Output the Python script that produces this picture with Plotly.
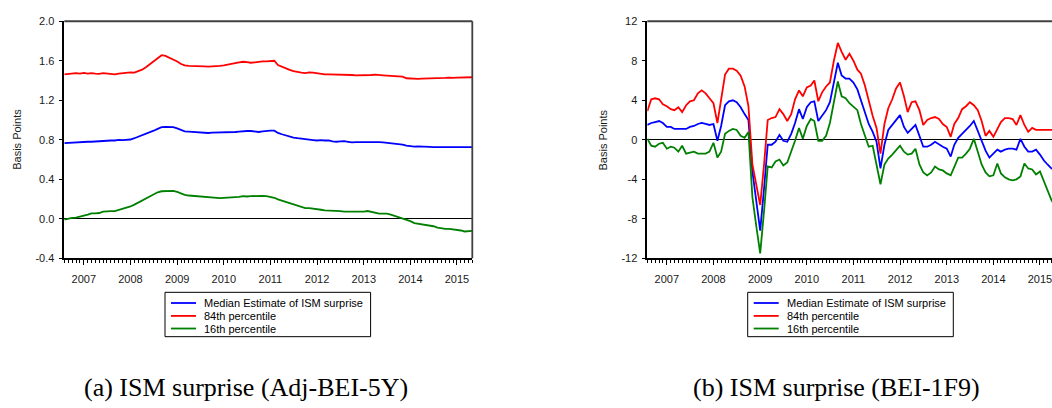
import pandas as pd
import plotly.graph_objects as go

W, H = 1052, 408

# Monthly observations, Aug 2006 - May 2015
months = pd.date_range("2006-08-01", periods=106, freq="MS")

series_names = ["Median Estimate of ISM surprise", "84th percentile", "16th percentile"]
series_colors = ["#0000ff", "#ff0000", "#008000"]

# Panel (a): ISM surprise, Adj-BEI-5Y (basis points)
adj_median = [
    0.767, 0.770, 0.770, 0.774, 0.774, 0.777, 0.780, 0.780, 0.784, 0.784,
    0.790, 0.793, 0.793, 0.793, 0.800, 0.797, 0.800, 0.803, 0.816, 0.830,
    0.846, 0.859, 0.872, 0.892, 0.911, 0.928, 0.931, 0.931, 0.928, 0.915,
    0.898, 0.885, 0.882, 0.879, 0.882, 0.879, 0.872, 0.869, 0.872, 0.872,
    0.872, 0.875, 0.875, 0.879, 0.879, 0.882, 0.889, 0.889, 0.889, 0.882,
    0.879, 0.885, 0.892, 0.892, 0.892, 0.869, 0.856, 0.843, 0.830, 0.823,
    0.816, 0.813, 0.810, 0.803, 0.797, 0.793, 0.797, 0.793, 0.793, 0.784,
    0.780, 0.784, 0.787, 0.780, 0.774, 0.777, 0.777, 0.780, 0.780, 0.784,
    0.780, 0.777, 0.774, 0.770, 0.770, 0.764, 0.757, 0.751, 0.741, 0.734,
    0.731, 0.734, 0.734, 0.731, 0.728, 0.725, 0.725, 0.721, 0.721, 0.718,
    0.718, 0.721, 0.721, 0.725, 0.725, 0.725,
]
adj_p84 = [
    1.462, 1.466, 1.472, 1.475, 1.470, 1.478, 1.470, 1.475, 1.470, 1.468,
    1.475, 1.470, 1.468, 1.462, 1.470, 1.475, 1.478, 1.482, 1.480, 1.495,
    1.510, 1.535, 1.567, 1.600, 1.633, 1.656, 1.650, 1.633, 1.616, 1.593,
    1.567, 1.554, 1.548, 1.548, 1.551, 1.548, 1.544, 1.541, 1.541, 1.544,
    1.548, 1.554, 1.564, 1.570, 1.577, 1.584, 1.590, 1.587, 1.580, 1.584,
    1.590, 1.593, 1.593, 1.600, 1.600, 1.557, 1.538, 1.525, 1.508, 1.495,
    1.485, 1.479, 1.475, 1.482, 1.479, 1.472, 1.466, 1.462, 1.462, 1.462,
    1.459, 1.459, 1.456, 1.459, 1.456, 1.452, 1.452, 1.452, 1.449, 1.456,
    1.459, 1.452, 1.452, 1.449, 1.446, 1.443, 1.443, 1.439, 1.423, 1.420,
    1.420, 1.416, 1.420, 1.420, 1.423, 1.423, 1.423, 1.426, 1.426, 1.430,
    1.426, 1.430, 1.430, 1.433, 1.433, 1.433,
]
adj_p16 = [
    -0.007, 0.003, 0.010, 0.013, 0.020, 0.033, 0.043, 0.056, 0.056, 0.059,
    0.072, 0.079, 0.079, 0.079, 0.089, 0.102, 0.111, 0.125, 0.144, 0.164,
    0.184, 0.207, 0.230, 0.252, 0.269, 0.279, 0.282, 0.282, 0.282, 0.272,
    0.256, 0.243, 0.236, 0.233, 0.226, 0.226, 0.223, 0.216, 0.213, 0.210,
    0.210, 0.213, 0.216, 0.213, 0.216, 0.223, 0.230, 0.226, 0.230, 0.233,
    0.236, 0.233, 0.230, 0.223, 0.213, 0.197, 0.184, 0.170, 0.157, 0.141,
    0.128, 0.115, 0.108, 0.108, 0.105, 0.098, 0.092, 0.085, 0.085, 0.082,
    0.082, 0.079, 0.072, 0.069, 0.072, 0.072, 0.069, 0.072, 0.079, 0.069,
    0.059, 0.052, 0.052, 0.052, 0.043, 0.030, 0.016, 0.003, -0.010, -0.023,
    -0.043, -0.049, -0.056, -0.062, -0.066, -0.075, -0.089, -0.098, -0.102, -0.102,
    -0.105, -0.108, -0.118, -0.128, -0.128, -0.121,
]

# Panel (b): ISM surprise, BEI-1F9 (basis points)
f9_median = [
    1.5, 1.7, 1.8, 1.9, 1.7, 1.3, 1.3, 1.1, 1.1, 1.1,
    1.1, 1.3, 1.4, 1.6, 1.7, 1.6, 1.5, 1.6, -0.1, 1.4,
    3.5, 3.9, 4.0, 3.8, 3.3, 2.6, 2.0, -3.2, -6.1, -9.2,
    -4.8, -0.5, -0.5, -0.2, 0.5, -0.1, -0.2, 0.6, 1.7, 3.1,
    2.1, 3.3, 3.8, 3.9, 1.9, 2.5, 3.0, 3.8, 6.0, 7.8,
    6.5, 6.2, 6.2, 5.8, 5.1, 4.0, 2.7, 1.6, 0.8, -0.2,
    -2.9, -0.5, 1.0, 1.5, 1.9, 2.5, 1.3, 0.7, 1.1, 1.5,
    0.4, -0.7, -0.7, -0.5, -0.2, -0.5, -0.7, -0.9, -1.7, -0.5,
    0.2, 0.6, 1.0, 1.4, 1.9, 0.9, -0.1, -1.1, -1.8, -1.4,
    -1.0, -1.2, -1.0, -0.9, -0.9, -1.0, 0.1, -0.7, -1.2, -1.2,
    -1.0, -1.5, -2.1, -2.5, -2.9, -3.0,
]
f9_p84 = [
    2.9, 4.1, 4.2, 4.1, 3.6, 3.4, 3.1, 3.0, 3.3, 2.8,
    3.5, 3.9, 4.0, 4.7, 5.0, 4.7, 4.2, 3.7, 1.7, 3.9,
    6.6, 7.2, 7.2, 7.0, 6.5, 5.4, 3.4, -2.5, -4.5, -6.6,
    -2.4, 2.0, 2.2, 2.3, 3.1, 2.6, 1.9, 2.6, 4.1, 5.0,
    4.4, 5.3, 5.5, 6.0, 3.9, 4.8, 5.4, 5.8, 8.0, 9.8,
    8.9, 8.1, 8.7, 8.0, 7.1, 6.7, 5.5, 3.9, 2.4, 1.2,
    -1.4, 1.6, 3.2, 4.1, 5.2, 5.8, 4.4, 2.8, 3.8, 3.9,
    3.0, 1.5, 2.0, 2.2, 2.3, 2.1, 1.6, 1.3, 0.3, 1.6,
    2.2, 3.1, 3.4, 3.8, 3.5, 3.0, 1.9, 0.4, 0.9, 0.3,
    1.1, 1.8, 2.2, 2.2, 2.1, 1.5, 2.5, 1.5, 0.8, 1.2,
    1.0, 1.0, 1.0, 1.0, 1.0, 1.0,
]
f9_p16 = [
    0.1, -0.6, -0.7, -0.4, -0.3, -0.9, -0.7, -0.8, -1.2, -0.6,
    -1.4, -1.3, -1.2, -1.4, -1.4, -1.4, -1.2, -0.3, -1.8, -1.2,
    0.6, 0.9, 1.1, 1.0, 0.4, 0.2, 0.8, -5.8, -8.7, -11.5,
    -7.1, -2.7, -2.8, -2.2, -2.0, -2.6, -2.3, -1.2, -0.1, 1.2,
    0.1, 1.4, 2.1, 1.9, -0.1, -0.1, 0.4, 1.7, 3.7, 5.9,
    4.4, 4.2, 3.7, 3.3, 3.0, 1.6, 0.4, -0.7, -0.6, -2.5,
    -4.5, -2.5, -1.9, -1.5, -1.0, -0.6, -1.2, -1.5, -1.4, -0.9,
    -2.5, -3.3, -3.6, -3.3, -2.7, -3.0, -3.1, -3.4, -3.6, -2.7,
    -1.8, -1.8, -1.4, -0.9, 0.1, -1.2, -2.5, -3.3, -3.7, -3.6,
    -2.4, -3.4, -3.8, -4.0, -4.1, -4.0, -3.7, -2.4, -2.9, -3.0,
    -3.5, -3.2, -4.2, -5.3, -6.1, -6.8,
]

# Axis ticks
year_ticks = [f"{y}-01-01" for y in range(2007, 2016)]
year_labels = [str(y) for y in range(2007, 2016)]
adj_yticks = [-0.4, 0.0, 0.4, 0.8, 1.2, 1.6, 2.0]
adj_ylabels = ["-0.4", "0.0", "0.4", "0.8", "1.2", "1.6", "2.0"]
f9_yticks = [-12, -8, -4, 0, 4, 8, 12]
f9_ylabels = ["-12", "-8", "-4", "0", "4", "8", "12"]

captions = ["(a) ISM surprise (Adj-BEI-5Y)", "(b) ISM surprise (BEI-1F9)"]
y_title = "Basis Points"


def px(x):
    return x / W


def py(y):
    return 1 - y / H


SANS = "Liberation Sans, Arial, sans-serif"
SERIF = "Liberation Serif, Times New Roman, serif"
TXT = "#1a1a1a"

# pixel geometry of the two panels
PLOT_TOP, PLOT_BOTTOM = 15.7, 260.0
PANEL_W = 408.0
LEFT_X0 = 64.3
RIGHT_X0 = 647.3

fig = go.Figure()

panels = [
    ("x", "y", [adj_median, adj_p84, adj_p16]),
    ("x2", "y2", [f9_median, f9_p84, f9_p16]),
]
for xa, ya, data in panels:
    for name, color, vals in zip(series_names, series_colors, data):
        fig.add_trace(go.Scatter(
            x=months, y=vals, name=name, mode="lines",
            line=dict(color=color, width=1.8),
            xaxis=xa, yaxis=ya, showlegend=False, hoverinfo="x+y+name",
        ))

start = months[0]
full_span = months[-1] - start
# the right panel runs past the page edge, so only its visible part is shown
right_end = start + full_span * ((W - RIGHT_X0) / PANEL_W)

common_x = dict(
    type="date", showgrid=False, zeroline=False,
    showline=True, linecolor="black", linewidth=1.5,
    tickmode="array", tickvals=year_ticks, ticktext=year_labels,
    ticks="outside", ticklen=5, tickwidth=1, tickcolor="black",
    tickfont=dict(family=SANS, size=11, color=TXT),
    ticklabelstandoff=5, ticklabeloverflow="allow",
    minor=dict(tickmode="linear", tick0="2006-08-01", dtick="M1",
               ticks="outside", ticklen=2.5, tickwidth=1,
               tickcolor="black", showgrid=False),
)
common_y = dict(
    showgrid=False, showline=True, linecolor="black", linewidth=1.5,
    zeroline=True, zerolinecolor="black", zerolinewidth=1,
    tickmode="array", ticks="outside", ticklen=4, tickwidth=1,
    tickcolor="black", tickfont=dict(family=SANS, size=11, color=TXT),
    ticklabelstandoff=2,
)

y_domain = [py(PLOT_BOTTOM), py(PLOT_TOP)]

fig.update_layout(
    width=W, height=H,
    margin=dict(l=0, r=0, t=0, b=0),
    paper_bgcolor="white", plot_bgcolor="white",
    xaxis=dict(common_x, domain=[px(LEFT_X0), px(LEFT_X0 + PANEL_W)],
               range=[months[0], months[-1]], anchor="y"),
    yaxis=dict(common_y, domain=y_domain, range=[-0.4, 2.0],
               tickvals=adj_yticks, ticktext=adj_ylabels, anchor="x"),
    xaxis2=dict(common_x, domain=[px(RIGHT_X0), 1.0],
                range=[start, right_end], anchor="y2"),
    yaxis2=dict(common_y, domain=y_domain, range=[-12, 12],
                tickvals=f9_yticks, ticktext=f9_ylabels, anchor="x2"),
)

shapes = []
# frame: top edge on both panels, right edge on the left panel
border = dict(color="#404040", width=1.8)
shapes.append(dict(type="line", xref="x domain", yref="y domain",
                   x0=0, x1=1, y0=1, y1=1, line=border))
shapes.append(dict(type="line", xref="x domain", yref="y domain",
                   x0=1, x1=1, y0=0, y1=1, line=border))
shapes.append(dict(type="line", xref="x2 domain", yref="y2 domain",
                   x0=0, x1=1, y0=1, y1=1, line=border))

annotations = []
# hand-built legend boxes under each panel
LEG_W, LEG_TOP, LEG_BOTTOM = 205.6, 295.0, 340.7
row_y = [306.0, 319.3, 332.3]
for box_x0 in (165.0, 747.7):
    shapes.append(dict(type="rect", xref="paper", yref="paper",
                       x0=px(box_x0), x1=px(box_x0 + LEG_W),
                       y0=py(LEG_BOTTOM), y1=py(LEG_TOP),
                       line=dict(color="black", width=1), fillcolor="white"))
    for name, color, ry in zip(series_names, series_colors, row_y):
        shapes.append(dict(type="line", xref="paper", yref="paper",
                           x0=px(box_x0 + 6), x1=px(box_x0 + 31),
                           y0=py(ry), y1=py(ry),
                           line=dict(color=color, width=1.8)))
        annotations.append(dict(text=name, xref="paper", yref="paper",
                                x=px(box_x0 + 37), y=py(ry),
                                xanchor="left", yanchor="middle",
                                showarrow=False,
                                font=dict(family=SANS, size=11, color="black")))

# y-axis titles
for tx in (17.0, 602.7):
    annotations.append(dict(text=y_title, xref="paper", yref="paper",
                            x=px(tx), y=py((PLOT_TOP + PLOT_BOTTOM) / 2),
                            textangle=-90, xanchor="center", yanchor="middle",
                            showarrow=False,
                            font=dict(family=SANS, size=11, color=TXT)))

# sub-figure captions
for text, cx in zip(captions, (246.0, 836.5)):
    annotations.append(dict(text=text, xref="paper", yref="paper",
                            x=px(cx), y=py(393.0),
                            xanchor="center", yanchor="middle",
                            showarrow=False,
                            font=dict(family=SERIF, size=26, color="black")))

fig.update_layout(shapes=shapes, annotations=annotations)

fig.write_html("out.html")
